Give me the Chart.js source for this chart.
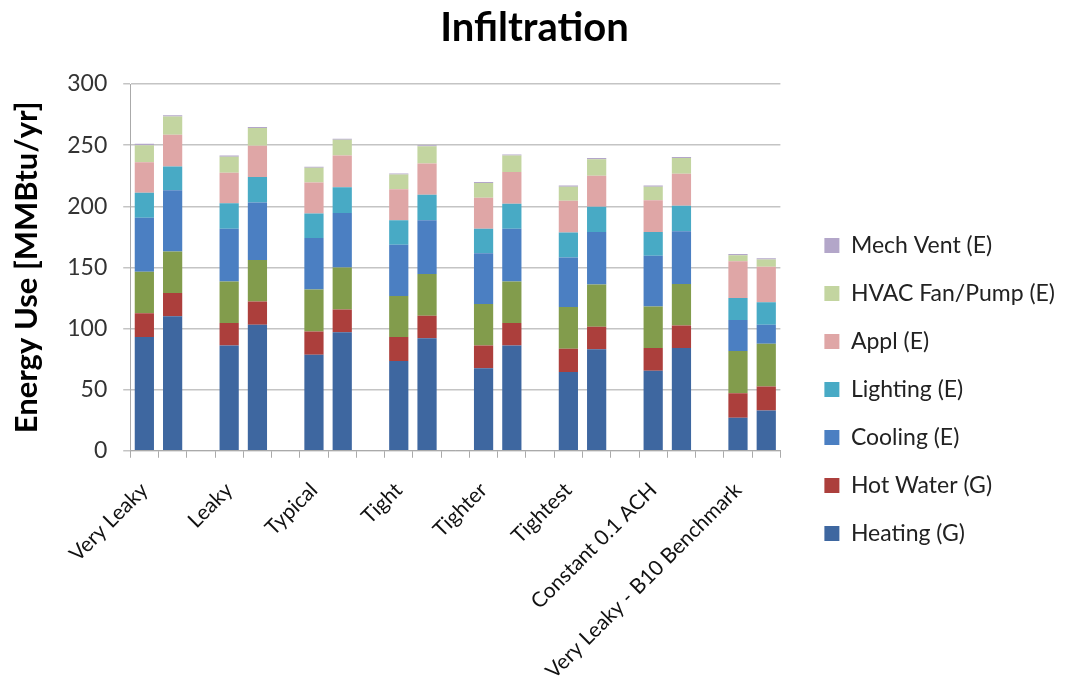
<!DOCTYPE html>
<html>
<head>
<meta charset="UTF-8">
<script src="https://cdn.jsdelivr.net/npm/chart.js"></script>
<style>
  html, body { margin: 0; padding: 0; background: #fff; }
  #wrap { width: 1069px; height: 691px; }
</style>
</head>
<body>
<div id="wrap"><canvas id="myChart" width="1069" height="691"></canvas></div>
<script>
// Groups (2 bars each)
const groupNames = ['Very Leaky', 'Leaky', 'Typical', 'Tight', 'Tighter', 'Tightest', 'Constant 0.1 ACH', 'Very Leaky - B10 Benchmark'];

// Series values, 16 bars (two per group), in MMBtu/yr
const heating   = [93, 110, 86, 103, 78.5, 97, 73.5, 92, 67.5, 86, 64.5, 83, 65.5, 84, 27, 33];
const hotWater  = [19.5, 19, 18.5, 19, 19, 18.5, 19.5, 18.5, 18.5, 18.5, 19, 18.5, 18.5, 18.5, 20, 19.5];
const misc      = [34, 34, 34, 34, 34.5, 34.5, 33.5, 34, 34, 34, 34, 34.5, 34, 34, 34.5, 35];
const cooling   = [44, 50, 43, 47, 42, 44.5, 42, 44, 41.5, 43, 40.5, 43, 41.5, 43, 25.5, 15.5];
const lighting  = [20.5, 19.5, 21, 21, 20, 21, 20, 21, 20, 20.5, 20.5, 20.5, 19.5, 21, 18, 18.5];
const appl      = [25, 26, 25, 25.5, 25.5, 26, 25.5, 25.5, 25.5, 26, 26, 25.5, 26, 26, 30, 29];
const hvacFan   = [14, 15, 13, 14.5, 12, 13, 12, 14, 12, 13.5, 11.5, 13.5, 11, 13, 5, 6];
const mechVent  = [1.2, 1, 1, 0.8, 0.8, 0.8, 0.8, 1, 0.8, 0.9, 0.9, 1, 1, 0.8, 1, 1];

const yTicks = [0, 50, 100, 150, 200, 250, 300];

// build slots: bar, bar, gap ... (no gap after last group)
const labels = [];
const slotOf = [];
groupNames.forEach((g, i) => {
    slotOf.push(labels.length); labels.push(g);
    slotOf.push(labels.length); labels.push('');
    if (i < groupNames.length - 1) labels.push('');
});
function toSlots(arr) {
    const out = labels.map(() => null);
    arr.forEach((v, i) => { out[slotOf[i]] = v; });
    return out;
}

const font = 'Lato, "Open Sans", sans-serif';

const datasets = [
    { label: 'Heating (G)', data: toSlots(heating), backgroundColor: '#3E67A0' },
    { label: 'Hot Water (G)', data: toSlots(hotWater), backgroundColor: '#AC3F3C' },
    { label: 'Misc (E)', data: toSlots(misc), backgroundColor: '#829C4C' },
    { label: 'Cooling (E)', data: toSlots(cooling), backgroundColor: '#4B7FC2' },
    { label: 'Lighting (E)', data: toSlots(lighting), backgroundColor: '#48AAC5' },
    { label: 'Appl (E)', data: toSlots(appl), backgroundColor: '#DFA6A6' },
    { label: 'HVAC Fan/Pump (E)', data: toSlots(hvacFan), backgroundColor: '#C3D5A0' },
    { label: 'Mech Vent (E)', data: toSlots(mechVent), backgroundColor: '#B3A6C9' }
];

const ctx = document.getElementById('myChart').getContext('2d');
const myChart = new Chart(ctx, {
    type: 'bar',
    data: { labels: labels, datasets: datasets },
    options: {
        responsive: false,
        animation: false,
        layout: { padding: { left: 4, right: 4, top: 4, bottom: 4 } },
        datasets: { bar: { categoryPercentage: 1, barPercentage: 0.68 } },
        plugins: {
            title: {
                display: true,
                text: 'Infiltration',
                color: '#000',
                font: { family: font, size: 40, weight: 'bold' },
                padding: { top: 0, bottom: 32 }
            },
            legend: {
                position: 'right',
                reverse: true,
                maxWidth: 270,
                title: { display: true, text: ' ', font: { size: 10 }, padding: { top: 38, bottom: 38 } },
                labels: {
                    filter: item => item.text !== 'Misc (E)',
                    boxWidth: 15,
                    boxHeight: 15,
                    padding: 25,
                    color: '#222',
                    font: { family: font, size: 23 }
                }
            },
            tooltip: { enabled: false }
        },
        scales: {
            x: {
                stacked: true,
                grid: { drawOnChartArea: false, drawTicks: true, tickLength: 7, color: '#aaa', offset: true },
                border: { color: '#aaa' },
                ticks: {
                    autoSkip: false,
                    maxRotation: 45,
                    minRotation: 45,
                    color: '#111',
                    padding: 20,
                    font: { family: font, size: 21 }
                },
                afterFit: s => { s.height -= 17; }
            },
            y: {
                stacked: true,
                min: 0,
                max: 300,
                afterBuildTicks: s => { s.ticks = yTicks.map(v => ({ value: v })); },
                title: {
                    display: true,
                    text: 'Energy Use [MMBtu/yr]',
                    color: '#000',
                    font: { family: font, size: 31, weight: 'bold' },
                    padding: { bottom: 6 }
                },
                grid: { color: '#c4c4c4', lineWidth: 1.5, tickLength: 7 },
                border: { color: '#aaa' },
                ticks: {
                    color: '#333',
                    padding: 16,
                    font: { family: font, size: 23 }
                }
            },
            // empty spacer axis between the plot and the legend
            yGap: {
                position: 'right',
                display: true,
                min: 0,
                max: 300,
                grid: { display: false },
                border: { display: false },
                ticks: { display: false },
                afterFit: s => { s.width = 19; }
            }
        }
    }
});
</script>
</body>
</html>
